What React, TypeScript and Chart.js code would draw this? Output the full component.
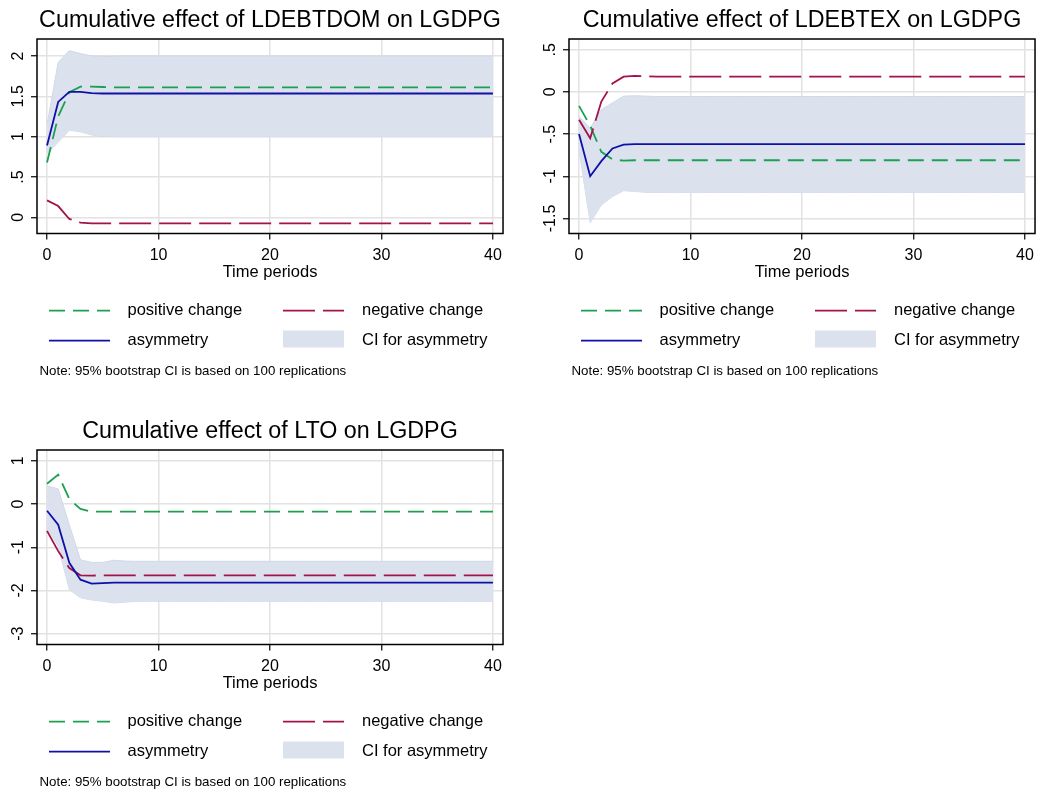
import { useEffect, useRef } from "react";
import { Chart, registerables } from "chart.js";

Chart.register(...registerables);

// ---------- data ----------
const PERIODS = [
  0, 1, 2, 3, 4, 5, 6, 7, 8, 9,
  10, 11, 12, 13, 14, 15, 16, 17, 18, 19,
  20, 21, 22, 23, 24, 25, 26, 27, 28, 29,
  30, 31, 32, 33, 34, 35, 36, 37, 38, 39,
  40,
];
const X_TICKS = [0, 10, 20, 30, 40];
const X_TITLE = "Time periods";
const LEGEND_LABELS = ["positive change", "negative change", "asymmetry", "CI for asymmetry"];
const NOTE = "Note: 95% bootstrap CI is based on 100 replications";

// Panel 1: LDEBTDOM
const TITLE_DOM = "Cumulative effect of LDEBTDOM on LGDPG";
const POS_DOM = [
  0.68, 1.25, 1.55, 1.62, 1.62, 1.615, 1.61, 1.61, 1.61, 1.61,
  1.61, 1.61, 1.61, 1.61, 1.61, 1.61, 1.61, 1.61, 1.61, 1.61,
  1.61, 1.61, 1.61, 1.61, 1.61, 1.61, 1.61, 1.61, 1.61, 1.61,
  1.61, 1.61, 1.61, 1.61, 1.61, 1.61, 1.61, 1.61, 1.61, 1.61,
  1.61,
];
const NEG_DOM = [
  0.21, 0.14, -0.02, -0.065, -0.075, -0.075, -0.075, -0.075, -0.075, -0.075,
  -0.075, -0.075, -0.075, -0.075, -0.075, -0.075, -0.075, -0.075, -0.075, -0.075,
  -0.075, -0.075, -0.075, -0.075, -0.075, -0.075, -0.075, -0.075, -0.075, -0.075,
  -0.075, -0.075, -0.075, -0.075, -0.075, -0.075, -0.075, -0.075, -0.075, -0.075,
  -0.075,
];
const ASYM_DOM = [
  0.89, 1.43, 1.555, 1.555, 1.54, 1.535, 1.535, 1.535, 1.535, 1.535,
  1.535, 1.535, 1.535, 1.535, 1.535, 1.535, 1.535, 1.535, 1.535, 1.535,
  1.535, 1.535, 1.535, 1.535, 1.535, 1.535, 1.535, 1.535, 1.535, 1.535,
  1.535, 1.535, 1.535, 1.535, 1.535, 1.535, 1.535, 1.535, 1.535, 1.535,
  1.535,
];
const CI_UP_DOM = [
  1.15, 1.92, 2.065, 2.03, 2.0, 1.995, 1.995, 2.0, 2.0, 2.0,
  2.0, 2.0, 2.0, 2.0, 2.0, 2.0, 2.0, 2.0, 2.0, 2.0,
  2.0, 2.0, 2.0, 2.0, 2.0, 2.0, 2.0, 2.0, 2.0, 2.0,
  2.0, 2.0, 2.0, 2.0, 2.0, 2.0, 2.0, 2.0, 2.0, 2.0,
  2.0,
];
const CI_LO_DOM = [
  0.79, 0.93, 1.08, 1.06, 1.02, 1.005, 1.0, 1.0, 1.0, 1.0,
  1.0, 1.0, 1.0, 1.0, 1.0, 1.0, 1.0, 1.0, 1.0, 1.0,
  1.0, 1.0, 1.0, 1.0, 1.0, 1.0, 1.0, 1.0, 1.0, 1.0,
  1.0, 1.0, 1.0, 1.0, 1.0, 1.0, 1.0, 1.0, 1.0, 1.0,
  1.0,
];
const Y_TICKS_DOM = [0, 0.5, 1, 1.5, 2];
const Y_LABELS_DOM = ["0", ".5", "1", "1.5", "2"];

// Panel 2: LDEBTEX
const TITLE_EX = "Cumulative effect of LDEBTEX on LGDPG";
const POS_EX = [
  -0.166, -0.4, -0.71, -0.8, -0.815, -0.81, -0.81, -0.81, -0.81, -0.81,
  -0.81, -0.81, -0.81, -0.81, -0.81, -0.81, -0.81, -0.81, -0.81, -0.81,
  -0.81, -0.81, -0.81, -0.81, -0.81, -0.81, -0.81, -0.81, -0.81, -0.81,
  -0.81, -0.81, -0.81, -0.81, -0.81, -0.81, -0.81, -0.81, -0.81, -0.81,
  -0.81,
];
const NEG_EX = [
  -0.33, -0.55, -0.115, 0.1, 0.18, 0.19, 0.185, 0.18, 0.18, 0.18,
  0.18, 0.18, 0.18, 0.18, 0.18, 0.18, 0.18, 0.18, 0.18, 0.18,
  0.18, 0.18, 0.18, 0.18, 0.18, 0.18, 0.18, 0.18, 0.18, 0.18,
  0.18, 0.18, 0.18, 0.18, 0.18, 0.18, 0.18, 0.18, 0.18, 0.18,
  0.18,
];
const ASYM_EX = [
  -0.5, -1.0, -0.82, -0.67, -0.625, -0.62, -0.62, -0.62, -0.62, -0.62,
  -0.62, -0.62, -0.62, -0.62, -0.62, -0.62, -0.62, -0.62, -0.62, -0.62,
  -0.62, -0.62, -0.62, -0.62, -0.62, -0.62, -0.62, -0.62, -0.62, -0.62,
  -0.62, -0.62, -0.62, -0.62, -0.62, -0.62, -0.62, -0.62, -0.62, -0.62,
  -0.62,
];
const CI_UP_EX = [
  -0.29, -0.43, -0.21, -0.13, -0.05, -0.045, -0.05, -0.055, -0.055, -0.055,
  -0.055, -0.055, -0.055, -0.055, -0.055, -0.055, -0.055, -0.055, -0.055, -0.055,
  -0.055, -0.055, -0.055, -0.055, -0.055, -0.055, -0.055, -0.055, -0.055, -0.055,
  -0.055, -0.055, -0.055, -0.055, -0.055, -0.055, -0.055, -0.055, -0.055, -0.055,
  -0.055,
];
const CI_LO_EX = [
  -0.69, -1.55, -1.34, -1.24, -1.17, -1.18, -1.19, -1.19, -1.19, -1.19,
  -1.19, -1.19, -1.19, -1.19, -1.19, -1.19, -1.19, -1.19, -1.19, -1.19,
  -1.19, -1.19, -1.19, -1.19, -1.19, -1.19, -1.19, -1.19, -1.19, -1.19,
  -1.19, -1.19, -1.19, -1.19, -1.19, -1.19, -1.19, -1.19, -1.19, -1.19,
  -1.19,
];
const Y_TICKS_EX = [-1.5, -1, -0.5, 0, 0.5];
const Y_LABELS_EX = ["-1.5", "-1", "-.5", "0", ".5"];

// Panel 3: LTO
const TITLE_TO = "Cumulative effect of LTO on LGDPG";
const POS_TO = [
  0.47, 0.68, 0.115, -0.115, -0.175, -0.175, -0.175, -0.175, -0.175, -0.175,
  -0.175, -0.175, -0.175, -0.175, -0.175, -0.175, -0.175, -0.175, -0.175, -0.175,
  -0.175, -0.175, -0.175, -0.175, -0.175, -0.175, -0.175, -0.175, -0.175, -0.175,
  -0.175, -0.175, -0.175, -0.175, -0.175, -0.175, -0.175, -0.175, -0.175, -0.175,
  -0.175,
];
const NEG_TO = [
  -0.62, -1.09, -1.48, -1.65, -1.655, -1.65, -1.65, -1.65, -1.65, -1.65,
  -1.65, -1.65, -1.65, -1.65, -1.65, -1.65, -1.65, -1.65, -1.65, -1.65,
  -1.65, -1.65, -1.65, -1.65, -1.65, -1.65, -1.65, -1.65, -1.65, -1.65,
  -1.65, -1.65, -1.65, -1.65, -1.65, -1.65, -1.65, -1.65, -1.65, -1.65,
  -1.65,
];
const ASYM_TO = [
  -0.155, -0.48, -1.36, -1.75, -1.84, -1.83, -1.82, -1.82, -1.82, -1.82,
  -1.82, -1.82, -1.82, -1.82, -1.82, -1.82, -1.82, -1.82, -1.82, -1.82,
  -1.82, -1.82, -1.82, -1.82, -1.82, -1.82, -1.82, -1.82, -1.82, -1.82,
  -1.82, -1.82, -1.82, -1.82, -1.82, -1.82, -1.82, -1.82, -1.82, -1.82,
  -1.82,
];
const CI_UP_TO = [
  0.42, 0.35, -0.48, -1.29, -1.35, -1.35, -1.3, -1.32, -1.325, -1.325,
  -1.325, -1.325, -1.325, -1.325, -1.325, -1.325, -1.325, -1.325, -1.325, -1.325,
  -1.325, -1.325, -1.325, -1.325, -1.325, -1.325, -1.325, -1.325, -1.325, -1.325,
  -1.325, -1.325, -1.325, -1.325, -1.325, -1.325, -1.325, -1.325, -1.325, -1.325,
  -1.325,
];
const CI_LO_TO = [
  -0.55, -0.98, -1.98, -2.17, -2.22, -2.25, -2.29, -2.27, -2.25, -2.25,
  -2.25, -2.25, -2.25, -2.25, -2.25, -2.25, -2.25, -2.25, -2.25, -2.25,
  -2.25, -2.25, -2.25, -2.25, -2.25, -2.25, -2.25, -2.25, -2.25, -2.25,
  -2.25, -2.25, -2.25, -2.25, -2.25, -2.25, -2.25, -2.25, -2.25, -2.25,
  -2.25,
];
const Y_TICKS_TO = [-3, -2, -1, 0, 1];
const Y_LABELS_TO = ["-3", "-2", "-1", "0", "1"];

// ---------- styles ----------
const FONT = '"Liberation Sans", Arial, Helvetica, sans-serif';
const GREEN = "#1aa050";
const RED = "#a3124a";
const BLUE = "#1010a8";
const CI_FILL = "#dbe2ee";
const CI_EDGE = "#cfd9e9";
const GRID = "#e2e2e2";
const GREEN_DASH = [16, 8];
const RED_DASH = [32, 8];
const LINE_W = 1.8;

const CW = 508;
const CH = 395;
const PLOT_LEFT = 37;
const PLOT_TOP = 39;
const PLOT_BOTTOM = 233.5;
const XAXIS_H = 55;

type PanelProps = {
  left: number;
  top: number;
  title: string;
  pos: number[];
  neg: number[];
  asym: number[];
  ciUp: number[];
  ciLo: number[];
  yMin: number;
  yMax: number;
  yTicks: number[];
  yLabels: string[];
};

function Panel(p: PanelProps) {
  const ref = useRef<HTMLCanvasElement | null>(null);
  useEffect(() => {
    if (!ref.current) return;
    const overlay = {
      id: "overlay",
      afterDraw(chart: any) {
        const { ctx, chartArea: a } = chart;
        ctx.save();
        // frame
        ctx.strokeStyle = "#000";
        ctx.lineWidth = 1.5;
        ctx.setLineDash([]);
        ctx.strokeRect(a.left, a.top, a.right - a.left, a.bottom - a.top);
        // rotated y tick labels
        const ys = chart.scales.y;
        ctx.fillStyle = "#000";
        ctx.font = `16px ${FONT}`;
        ctx.textAlign = "center";
        ctx.textBaseline = "middle";
        p.yTicks.forEach((v, i) => {
          const py = ys.getPixelForValue(v);
          ctx.save();
          ctx.translate(a.left - 19, py);
          ctx.rotate(-Math.PI / 2);
          ctx.fillText(p.yLabels[i], 0, 1);
          ctx.restore();
        });
        // legend
        const r1 = 310.7;
        const r2 = 340.7;
        ctx.lineWidth = LINE_W;
        ctx.strokeStyle = GREEN;
        ctx.setLineDash(GREEN_DASH);
        ctx.beginPath();
        ctx.moveTo(49, r1);
        ctx.lineTo(110, r1);
        ctx.stroke();
        ctx.strokeStyle = RED;
        ctx.setLineDash(RED_DASH);
        ctx.beginPath();
        ctx.moveTo(283, r1);
        ctx.lineTo(344, r1);
        ctx.stroke();
        ctx.strokeStyle = BLUE;
        ctx.setLineDash([]);
        ctx.beginPath();
        ctx.moveTo(49, r2);
        ctx.lineTo(110, r2);
        ctx.stroke();
        ctx.fillStyle = CI_FILL;
        ctx.fillRect(283, 330.5, 61, 17);
        ctx.fillStyle = "#000";
        ctx.textAlign = "left";
        ctx.font = `16.5px ${FONT}`;
        ctx.fillText(LEGEND_LABELS[0], 127.5, r1);
        ctx.fillText(LEGEND_LABELS[1], 362, r1);
        ctx.fillText(LEGEND_LABELS[2], 127.5, r2);
        ctx.fillText(LEGEND_LABELS[3], 362, r2);
        ctx.font = `13.3px ${FONT}`;
        ctx.fillText(NOTE, 39.5, 371);
        ctx.restore();
      },
    };

    const chart = new Chart(ref.current, {
      type: "line",
      data: {
        labels: PERIODS,
        datasets: [
          {
            label: LEGEND_LABELS[2],
            data: p.asym,
            borderColor: BLUE,
            borderWidth: LINE_W,
            pointRadius: 0,
            tension: 0,
            fill: false,
          },
          {
            label: LEGEND_LABELS[1],
            data: p.neg,
            borderColor: RED,
            borderWidth: LINE_W,
            borderDash: RED_DASH,
            pointRadius: 0,
            tension: 0,
            fill: false,
          },
          {
            label: LEGEND_LABELS[0],
            data: p.pos,
            borderColor: GREEN,
            borderWidth: LINE_W,
            borderDash: GREEN_DASH,
            pointRadius: 0,
            tension: 0,
            fill: false,
          },
          {
            label: LEGEND_LABELS[3],
            data: p.ciUp,
            borderColor: CI_EDGE,
            borderWidth: 1,
            backgroundColor: CI_FILL,
            pointRadius: 0,
            tension: 0,
            fill: "+1",
          },
          {
            label: "ci-lower",
            data: p.ciLo,
            borderColor: CI_EDGE,
            borderWidth: 1,
            pointRadius: 0,
            tension: 0,
            fill: false,
          },
        ],
      },
      options: {
        animation: false,
        responsive: false,
        maintainAspectRatio: false,
        devicePixelRatio: 1,
        events: [],
        layout: {
          padding: { left: 0, right: CW - 504, top: 0, bottom: CH - PLOT_BOTTOM - XAXIS_H },
        },
        plugins: {
          legend: { display: false },
          tooltip: { enabled: false },
          title: {
            display: true,
            text: p.title,
            fullSize: false,
            color: "#000",
            font: { family: FONT, size: 23.3, weight: "normal", lineHeight: 1.2 },
            padding: { top: 6.5, bottom: PLOT_TOP - 6.5 - 23.3 * 1.2 },
          },
        },
        scales: {
          x: {
            type: "linear",
            min: -0.9,
            max: 40.9,
            afterBuildTicks: (ax: any) => {
              ax.ticks = X_TICKS.map((v) => ({ value: v }));
            },
            afterFit: (ax: any) => {
              ax.height = XAXIS_H;
            },
            grid: { color: GRID, lineWidth: 1.5, tickColor: "#000", tickLength: 6, tickWidth: 1.2 },
            border: { display: false },
            ticks: {
              color: "#000",
              font: { family: FONT, size: 16 },
              padding: 6,
              maxRotation: 0,
              autoSkip: false,
              callback: (v: any) => String(v),
            },
            title: {
              display: true,
              text: X_TITLE,
              color: "#000",
              font: { family: FONT, size: 16.5 },
              padding: { top: 0, bottom: 6 },
            },
          },
          y: {
            type: "linear",
            min: p.yMin,
            max: p.yMax,
            afterBuildTicks: (ax: any) => {
              ax.ticks = p.yTicks.map((v) => ({ value: v }));
            },
            afterFit: (ax: any) => {
              ax.width = PLOT_LEFT;
            },
            grid: { color: GRID, lineWidth: 1.5, tickColor: "#000", tickLength: 6, tickWidth: 1.2 },
            border: { display: false },
            ticks: { display: false },
          },
        },
      },
      plugins: [overlay],
    } as any);
    return () => chart.destroy();
  }, []);
  return (
    <canvas
      ref={ref}
      width={CW}
      height={CH}
      style={{ position: "absolute", left: p.left, top: p.top, width: CW, height: CH, display: "block" }}
    />
  );
}

export default function App() {
  return (
    <div
      style={{
        position: "absolute",
        left: 0,
        top: 0,
        width: 1040,
        height: 790,
        overflow: "hidden",
        background: "#fff",
      }}
    >
      <Panel
        left={0}
        top={0}
        title={TITLE_DOM}
        pos={POS_DOM}
        neg={NEG_DOM}
        asym={ASYM_DOM}
        ciUp={CI_UP_DOM}
        ciLo={CI_LO_DOM}
        yMin={-0.2}
        yMax={2.21}
        yTicks={Y_TICKS_DOM}
        yLabels={Y_LABELS_DOM}
      />
      <Panel
        left={532}
        top={0}
        title={TITLE_EX}
        pos={POS_EX}
        neg={NEG_EX}
        asym={ASYM_EX}
        ciUp={CI_UP_EX}
        ciLo={CI_LO_EX}
        yMin={-1.678}
        yMax={0.627}
        yTicks={Y_TICKS_EX}
        yLabels={Y_LABELS_EX}
      />
      <Panel
        left={0}
        top={411}
        title={TITLE_TO}
        pos={POS_TO}
        neg={NEG_TO}
        asym={ASYM_TO}
        ciUp={CI_UP_TO}
        ciLo={CI_LO_TO}
        yMin={-3.25}
        yMax={1.25}
        yTicks={Y_TICKS_TO}
        yLabels={Y_LABELS_TO}
      />
    </div>
  );
}
